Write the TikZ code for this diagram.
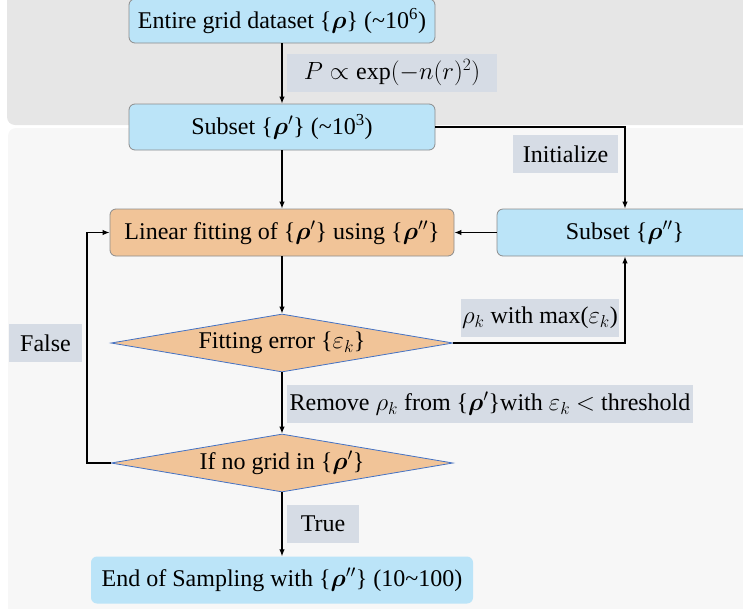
\documentclass[tikz,border=0pt]{standalone}
\usepackage{amsmath}
\usepackage{bm}
\usepackage{fontspec}
\setmainfont{Liberation Serif}
\usetikzlibrary{arrows.meta,shapes.geometric}
\definecolor{boxblue}{RGB}{187,228,248}
\definecolor{boxorange}{RGB}{241,196,152}
\definecolor{tagfill}{RGB}{214,220,229}
\definecolor{diaedge}{RGB}{68,114,196}
\definecolor{bgtop}{RGB}{230,230,230}
\definecolor{bgbottom}{RGB}{247,247,247}
\def\rset#1{\{$\bm{\rho}#1$\}}

\begin{document}
\begin{tikzpicture}[x=1pt, y=-1pt,
	every node/.style={font=\fontsize{24}{28}\selectfont, inner sep=0pt},
	bluebox/.style={draw=black!45, fill=boxblue, rounded corners=6pt, line width=0.8pt},
	orangebox/.style={draw=black!45, fill=boxorange, rounded corners=6pt, line width=0.8pt},
	decision/.style={diamond, shape aspect=6, draw=diaedge, fill=boxorange, line width=0.8pt, minimum width=342pt, minimum height=58pt},
	tag/.style={fill=tagfill, minimum height=38pt},
	flow/.style={-{Latex[length=7pt,width=5.5pt]}, line width=1.2pt}]
			%%%%% START %%%%%
			
			\useasboundingbox (0,0) rectangle (743,608);
			\clip (0,0) rectangle (743,608);
			
			\fill[bgtop, rounded corners=8pt] (7,-20) rectangle (760,125);
			\fill[bgbottom, rounded corners=8pt] (8,128) rectangle (760,630);
			
			\node[bluebox, minimum width=306pt, minimum height=44pt] (entire) at (282,21) {Entire grid dataset \rset{} (\textasciitilde10\textsuperscript{6})};
			\node[bluebox, minimum width=306pt, minimum height=46pt] (subA) at (282,127) {Subset \rset{'} (\textasciitilde10\textsuperscript{3})};
			
			\node[orangebox, minimum width=344pt, minimum height=47pt] (fit) at (282,232.5) {Linear fitting of \rset{'} using \rset{''}};
			\node[bluebox, minimum width=256pt, minimum height=47pt] (subB) at (625,232.5) {Subset \rset{''}};
			
			\node[decision] (err) at (282,343) {Fitting error \{$\varepsilon_k$\}};
			\node[decision] (nogrid) at (282,463) {If no grid in \rset{'}};
			
			\node[fill=boxblue, rounded corners=6pt, minimum width=382pt, minimum height=47pt] (finish) at (282,580) {End of Sampling with \rset{''} (10\textasciitilde100)};
			
			\node[tag, minimum width=210pt] (ptag) at (392,73) {$P \propto \exp(-n(r)^2)$};
			\node[tag, minimum width=105pt] (inittag) at (565.5,154) {Initialize};
			\node[tag, minimum width=158pt] (maxtag) at (540,318) {$\rho_k$ with max($\varepsilon_k$)};
			\node[tag, minimum width=406pt] (removetag) at (490,404) {Remove $\rho_k$ from \rset{'}with $\varepsilon_k$ $<$ threshold};
			\node[tag, minimum width=73pt] (falsetag) at (45.5,343) {False};
			\node[tag, minimum width=72pt] (truetag) at (323,524) {True};
			
			\draw[flow] (entire.south) -- (subA.north);
			\draw[flow] (subA.south) -- (fit.north);
			\draw[flow] (subA.east) -| (subB.north);
			\draw[flow] (subB.west) -- (fit.east);
			\draw[flow] (fit.south) -- (err.north);
			\draw[flow] (err.east) -| (subB.south);
			\draw[flow] (err.south) -- (nogrid.north);
			
			\coordinate (back) at (87,463);
			\draw[flow] (nogrid.west) -- (back) |- (fit.west);
			\draw[flow] (nogrid.south) -- (finish.north);
			
			%%%%% END %%%%%
\end{tikzpicture}
\end{document}
